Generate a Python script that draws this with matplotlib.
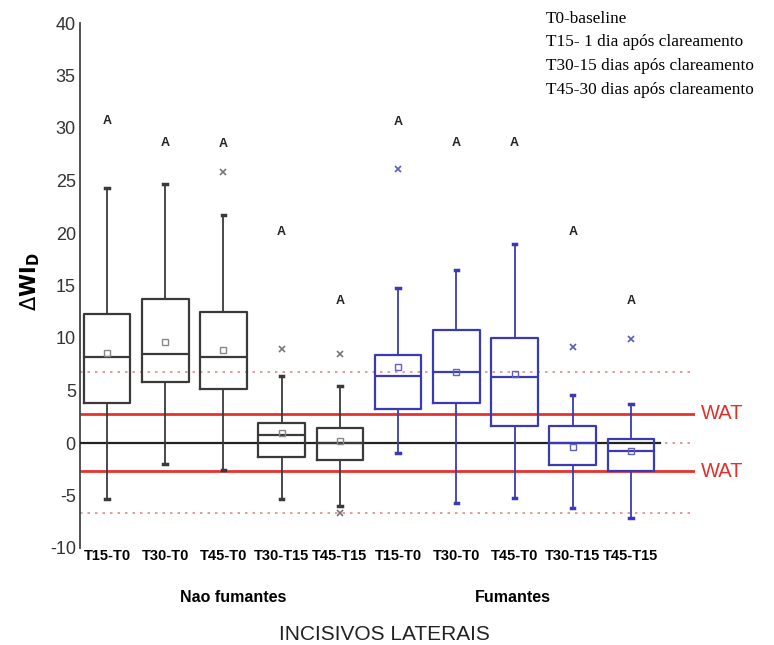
import matplotlib
matplotlib.use("Agg")
import matplotlib.pyplot as plt

# ---- data ----
tick_labels = ["T15-T0", "T30-T0", "T45-T0", "T30-T15", "T45-T15",
               "T15-T0", "T30-T0", "T45-T0", "T30-T15", "T45-T15"]
groups = ["Nao fumantes", "Fumantes"]
whis_hi = [24.3, 24.7, 21.7, 6.4, 5.4, 14.8, 16.5, 18.95, 4.6, 3.75]
q3 = [12.25, 13.7, 12.5, 1.9, 1.43, 8.38, 10.8, 10.0, 1.65, 0.38]
median = [8.15, 8.45, 8.2, 0.76, 0.0, 6.38, 6.8, 6.25, 0.0, -0.73]
mean = [8.6, 9.65, 8.86, 1.0, 0.2, 7.27, 6.8, 6.57, -0.4, -0.73]
q1 = [3.85, 5.8, 5.1, -1.36, -1.6, 3.24, 3.84, 1.62, -2.1, -2.64]
whis_lo = [-5.3, -2.0, -2.6, -5.33, -6.0, -0.92, -5.75, -5.2, -6.2, -7.14]
outliers = [[], [], [25.8], [9.0], [8.5, -6.7], [26.1], [], [], [9.17], [9.93]]
letters = ["A"] * 10
letter_y = [30.7, 28.6, 28.5, 20.1, 13.55, 30.6, 28.6, 28.6, 20.1, 13.55]
wat_hi, wat_lo = 2.8, -2.7
dot_hi, dot_lo = 6.8, -6.7
legend_lines = ["T0-baseline", "T15- 1 dia após clareamento",
                "T30-15 dias após clareamento", "T45-30 dias após clareamento"]

fig = plt.figure(figsize=(7.74, 6.45), dpi=100)
ax = fig.add_axes([80/774, 1-548/645, (695-80)/774, (548-23)/645])
ax.set_xlim(0.536, 11.1)
ax.set_ylim(-10, 40)

# reference lines
ax.axhline(0, color="#e08a8a", ls=(0, (1.5, 3)), lw=1.2, zorder=1)
ax.axhline(dot_hi, color="#e08a8a", ls=(0, (1.5, 3)), lw=1.2, zorder=1)
ax.axhline(dot_lo, color="#e08a8a", ls=(0, (1.5, 3)), lw=1.2, zorder=1)
ax.axhline(wat_hi, color="#e8302c", lw=2, zorder=2)
ax.axhline(wat_lo, color="#e8302c", lw=2, zorder=2)
ax.plot([0.536, 10.5], [0, 0], color="#222222", lw=1.6, zorder=3)

positions = list(range(1, 11))
for i, pos in enumerate(positions):
    col = "#3a3a3a" if i < 5 else "#3a3ab4"
    fcol = "#777777" if i < 5 else "#5a5ac0"
    stats = [dict(med=median[i], q1=q1[i], q3=q3[i], whislo=whis_lo[i],
                  whishi=whis_hi[i], mean=mean[i], fliers=outliers[i])]
    ax.bxp(stats, positions=[pos], widths=0.8, showmeans=True,
           capwidths=0.06, manage_ticks=False,
           boxprops=dict(color=col, lw=1.6),
           medianprops=dict(color=col, lw=1.6),
           whiskerprops=dict(color=col, lw=1.3),
           capprops=dict(color=col, lw=2.5),
           meanprops=dict(marker="s", markerfacecolor="none",
                          markeredgecolor="#888888" if i < 5 else "#6060c0",
                          markersize=4.5, markeredgewidth=1),
           flierprops=dict(marker="x", markeredgecolor=fcol,
                           markersize=4, markeredgewidth=1.2),
           zorder=4)
    ax.text(pos, letter_y[i], letters[i], ha="center", va="center",
            fontsize=9, fontweight="bold", family="Liberation Sans",
            color="#222222")

ax.set_xticks(positions)
ax.set_xticklabels(tick_labels, fontsize=10.5, fontweight="bold",
                   family="Liberation Sans")
ax.set_yticks(range(-10, 41, 5))
ax.set_yticklabels([str(v) for v in range(-10, 41, 5)], fontsize=13,
                   family="Liberation Sans", color="#333333")
ax.tick_params(axis="both", length=0)
ax.tick_params(axis="x", pad=1)
ax.tick_params(axis="y", pad=3)
for s in ["top", "right", "bottom"]:
    ax.spines[s].set_visible(False)
ax.spines["left"].set_color("#444444")
ax.spines["left"].set_linewidth(1.3)

# WAT labels
for yv in (wat_hi, wat_lo):
    ax.text(11.2, yv, "WAT", color="#e0302c", fontsize=14.5,
            family="Liberation Sans", ha="left", va="center", clip_on=False)

# group labels and title
fig.text(233/774, 1-597/645, groups[0], ha="center", va="center",
         fontsize=11.5, fontweight="bold", family="Liberation Sans")
fig.text(513/774, 1-597/645, groups[1], ha="center", va="center",
         fontsize=11.5, fontweight="bold", family="Liberation Sans")
fig.text(384/774, 1-634/645, "INCISIVOS LATERAIS", ha="center", va="center",
         fontsize=15, family="Liberation Sans", color="#222222")

# y label
fig.text(30/774, 1-282/645, r"$\Delta$" + r"$\mathbf{WI_D}$", rotation=90,
         ha="center", va="center", fontsize=15, family="Liberation Sans")

# legend text
for k, line in enumerate(legend_lines):
    fig.text(546/774, 1-(19 + k*23.5)/645, line, ha="left", va="center",
             fontsize=12.4, family="Liberation Serif")

fig.savefig("out.png", dpi=100)
